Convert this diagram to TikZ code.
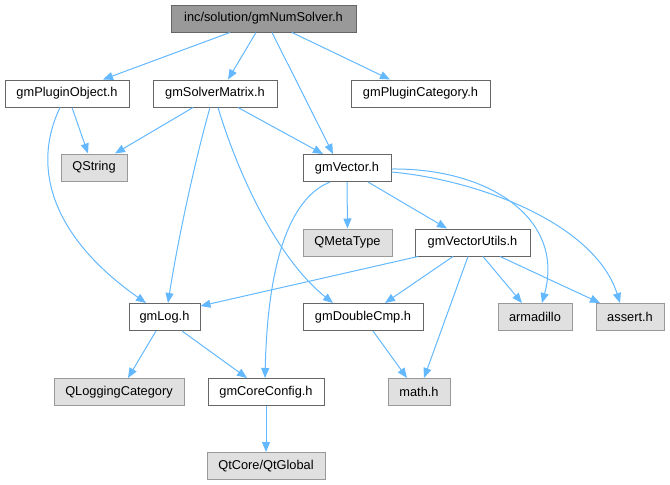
\documentclass[tikz,border=0pt]{standalone}
\usepackage{fontspec}
\setmainfont{Liberation Sans}
\usetikzlibrary{arrows.meta}
\definecolor{edgec}{HTML}{63B8FF}
\definecolor{topfill}{HTML}{999999}
\definecolor{topdraw}{HTML}{666666}
\definecolor{extfill}{HTML}{E0E0E0}
\definecolor{extdraw}{HTML}{999999}
\begin{document}
\begin{tikzpicture}[x=1pt,y=-1pt,
  box/.style={draw=topdraw,fill=white,line width=1pt,minimum height=27pt,inner sep=0pt,
    font=\fontsize{12.8}{14}\selectfont},
  topbox/.style={box,fill=topfill},
  extbox/.style={box,draw=extdraw,fill=extfill},
  edge/.style={draw=edgec,line width=1pt,-{Triangle[length=10pt,width=8pt]}}]
\useasboundingbox (0,0) rectangle (670,485);
\node[topbox,minimum width=185pt] (top) at (263.5,18.5) {inc/solution/gmNumSolver.h};
\node[box,minimum width=124pt] (po) at (67,93.5) {gmPluginObject.h};
\node[box,minimum width=124pt] (sm) at (215,93.5) {gmSolverMatrix.h};
\node[box,minimum width=139pt] (pc) at (420.5,93.5) {gmPluginCategory.h};
\node[extbox,minimum width=66pt] (qs) at (94,167.5) {QString};
\node[box,minimum width=88pt] (vec) at (347,168) {gmVector.h};
\node[extbox,minimum width=89pt] (qmt) at (347.5,242.5) {QMetaType};
\node[box,minimum width=115pt] (vu) at (472.5,242.5) {gmVectorUtils.h};
\node[box,minimum width=71pt] (log) at (164.5,317) {gmLog.h};
\node[box,minimum width=120pt] (dc) at (363,317) {gmDoubleCmp.h};
\node[extbox,minimum width=74pt] (arm) at (535,317) {armadillo};
\node[extbox,minimum width=68pt] (ast) at (630,317) {assert.h};
\node[extbox,minimum width=130pt] (qlc) at (119,392) {QLoggingCategory};
\node[box,minimum width=116pt] (cc) at (266,392) {gmCoreConfig.h};
\node[extbox,minimum width=62pt] (math) at (419,392) {math.h};
\node[extbox,minimum width=118pt] (qtg) at (266,466) {QtCore/QtGlobal};

\path[edge] ([xshift=-33.5pt]top.south) -- ([xshift=36pt]po.north);
\path[edge] ([xshift=-7.5pt]top.south) -- ([xshift=13pt]sm.north);
\path[edge] ([xshift=28.5pt]top.south) -- ([xshift=-30.5pt]pc.north);
\path[edge] ([xshift=8.5pt]top.south) -- ([xshift=-14pt]vec.north);
\path[edge] ([xshift=5pt]po.south) -- ([xshift=-6pt]qs.north);
\path[edge] ([xshift=-7pt]po.south) .. controls +(-30,63) and +(-91,-64) .. ([xshift=-18.5pt]log.north);
\path[edge] ([xshift=-22pt]sm.south) -- ([xshift=21pt]qs.north);
\path[edge] ([xshift=23pt]sm.south) -- ([xshift=-24pt]vec.north);
\path[edge] ([xshift=-5pt]sm.south) .. controls +(-15,53) and +(10,-64) .. ([xshift=3.5pt]log.north);
\path[edge] ([xshift=3pt]sm.south) .. controls +(22,73) and +(-53,-42) .. ([xshift=-30pt]dc.north);
\path[edge] (vec.south) -- (qmt.north);
\path[edge] ([xshift=21pt]vec.south) -- ([xshift=-25.5pt]vu.north);
\path[edge] ([xshift=-17pt]vec.south) .. controls +(-35,14) and +(3,-129) .. ([xshift=-1pt]cc.north);
\path[edge] ([yshift=-1pt]vec.east) .. controls +(98,-1) and +(23,-84) .. ([xshift=7pt]arm.north);
\path[edge] ([yshift=-4pt]vec.east) .. controls +(88,8) and +(-25,-79) .. ([xshift=-10pt]ast.north);
\path[edge] ([xshift=-54.5pt]vu.south) -- ([yshift=11pt]log.east);
\path[edge] ([xshift=-19.5pt]vu.south) -- ([xshift=22pt]dc.north);
\path[edge] ([xshift=-4.5pt]vu.south) -- ([xshift=5pt]math.north);
\path[edge] ([xshift=10.5pt]vu.south) -- ([xshift=-13pt]arm.north);
\path[edge] ([xshift=27.5pt]vu.south) -- ([xshift=-30pt]ast.north);
\path[edge] ([xshift=-8.5pt]log.south) -- ([xshift=9pt]qlc.north);
\path[edge] ([xshift=17.5pt]log.south) -- ([xshift=-19pt]cc.north);
\path[edge] ([xshift=10pt]dc.south) -- ([xshift=-12pt]math.north);
\path[edge] (cc.south) -- (qtg.north);
\end{tikzpicture}
\end{document}
